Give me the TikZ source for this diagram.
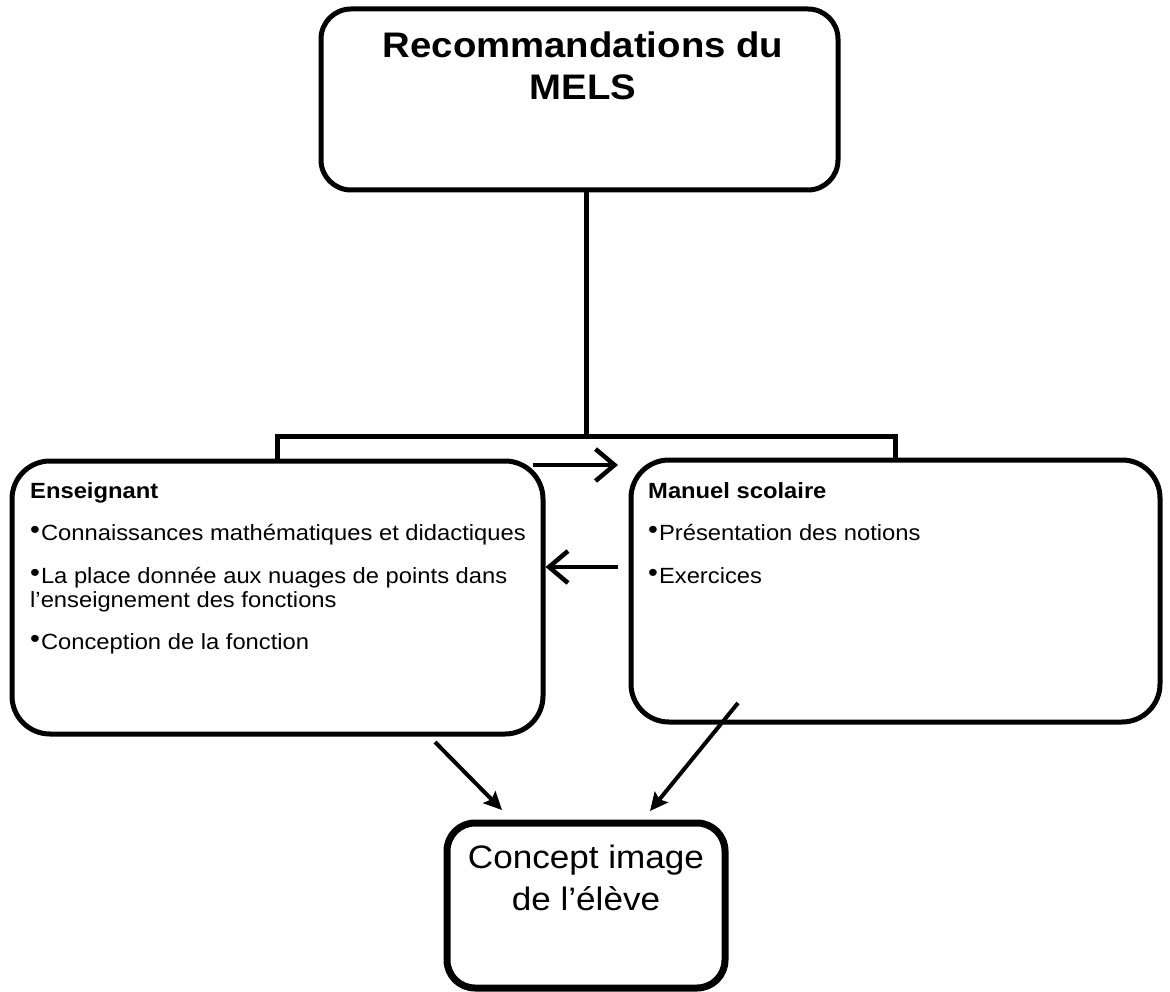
\documentclass[tikz,border=0pt]{standalone}
\usepackage{fontspec}
\setmainfont{Liberation Sans}[FakeStretch=1.08]
\usetikzlibrary{arrows.meta}
\newcommand{\puce}{\raisebox{2pt}{\fontsize{26}{26}\selectfont•}\kern1pt}

\begin{document}
\begin{tikzpicture}[x=1pt,y=-1pt]
\tikzset{
  frame/.style={draw,line width=5pt,rounded corners=30pt,inner sep=0pt},
  panel/.style={draw,line width=5pt,rounded corners=38pt,inner sep=0pt},
  link/.style={line width=5pt},
  barbed/.style={-{Straight Barb[length=19pt,width=32pt]},line width=4.5pt},
  pointed/.style={-{Stealth[length=18pt,width=17pt,inset=3pt]},line width=4pt},
  head/.style={anchor=base west,inner sep=0pt,font=\fontsize{22}{26}\selectfont\bfseries},
  entry/.style={anchor=base west,inner sep=0pt,font=\fontsize{22}{26}\selectfont}
}
\useasboundingbox (0,0) rectangle (1170,992);
\node[frame,minimum width=517pt,minimum height=181pt] (n_mels) at (579.5,99.5) {};
\node[align=center,inner sep=0pt,anchor=north,font=\fontsize{35.5}{42}\selectfont\bfseries] (n_mels_t) at (583,32) {Recommandations du\\MELS};
\node[panel,minimum width=531pt,minimum height=273pt] (n_ens) at (277.5,597.5) {};
\node[panel,minimum width=529pt,minimum height=262pt] (n_man) at (895.5,591) {};
\node[draw,line width=7pt,rounded corners=28pt,inner sep=0pt,minimum width=278pt,minimum height=165pt] (n_eleve) at (586,905.5) {};
\node[align=center,inner sep=0pt,anchor=north,font=\fontsize{32.5}{42}\selectfont] (n_eleve_t) at (586,845) {Concept image\\de l’élève};
% texte des encadres
\node[head] (n_ens_h) at (30,498) {Enseignant};
\node[entry] (n_ens_a) at (30,540) {\puce Connaissances mathématiques et didactiques};
\node[entry] (n_ens_b) at (30,583) {\puce La place donnée aux nuages de points dans};
\node[entry] (n_ens_c) at (30,607) {l'enseignement des fonctions};
\node[entry] (n_ens_d) at (30,649) {\puce Conception de la fonction};
\node[head] (n_man_h) at (648,498) {Manuel scolaire};
\node[entry] (n_man_a) at (648,540) {\puce Présentation des notions};
\node[entry] (n_man_b) at (648,583) {\puce Exercices};
% liens
\coordinate (c_split) at (586,436);
\coordinate (c_r0) at (533,465);
\coordinate (c_r1) at (618,465);
\coordinate (c_l0) at (618,567);
\coordinate (c_a0) at (435,742);
\coordinate (c_a1) at (502,810);
\coordinate (c_b0) at (738,703);
\coordinate (c_b1) at (650,811);
\draw[link] (n_mels.south -| c_split) -- (c_split);
\draw[link] (n_ens.north) |- (c_split) -| (n_man.north);
\draw[barbed] (c_r0) -- (c_r1);
\draw[barbed] (c_l0) -- (n_ens.east |- c_l0);
\draw[pointed] (c_a0) -- (c_a1);
\draw[pointed] (c_b0) -- (c_b1);
\end{tikzpicture}
\end{document}
